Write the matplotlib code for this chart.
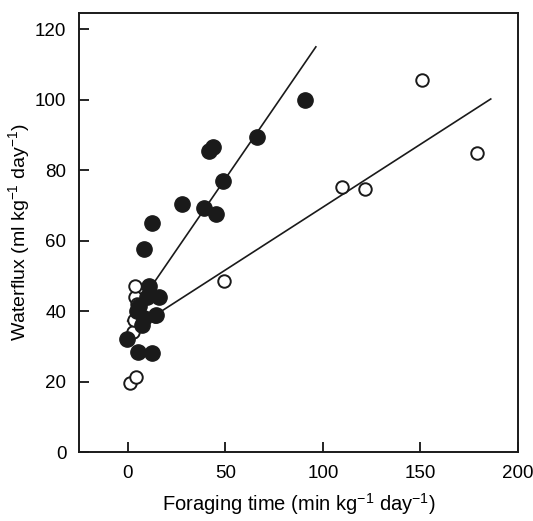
import matplotlib
matplotlib.use("Agg")
import matplotlib.pyplot as plt
import numpy as np

plt.rcParams["font.family"] = ["Liberation Sans", "DejaVu Sans"]
plt.rcParams["mathtext.default"] = "regular"

# filled circles (foraging time, waterflux)
filled_x = [-0.5, 5.5, 12.5, 7.5, 5, 6, 8.5, 14.5, 16, 11, 10, 8.3, 12.5,
            28, 39, 45.5, 49, 41.5, 43.5, 66.5, 91]
filled_y = [32, 28.5, 28, 36, 40, 41.5, 38, 39, 44, 47, 44, 57.5, 65,
            70.5, 69.3, 67.5, 77, 85.5, 86.5, 89.5, 100]

# open circles
open_x = [1, 4.5, 2.5, 3, 4, 3.6, 5, 14, 49.5, 110, 121.5, 151, 179]
open_y = [19.5, 21.3, 34, 37.5, 44, 47, 42, 38.5, 48.5, 75.3, 74.7, 105.6, 85]

# regression lines: slope, intercept, x range
filled_fit = (0.807, 37.2, [0, 96.4])
open_fit = (0.357, 33.8, [2, 186])

fig = plt.figure(figsize=(5.33, 5.21), dpi=100)
ax = fig.add_axes([0.148, 0.1324, 0.824, 0.8426])

for slope, icpt, xr in [filled_fit, open_fit]:
    xs = np.array(xr)
    ax.plot(xs, slope * xs + icpt, color="#1a1a1a", lw=1.2, zorder=2)

ax.plot(open_x, open_y, "o", ms=9, mfc="white", mec="#1a1a1a", mew=1.4, zorder=3)
ax.plot(filled_x, filled_y, "o", ms=11, mfc="#1a1a1a", mec="#1a1a1a", zorder=4)

ax.set_xlim(-25, 200)
ax.set_ylim(0, 124.6)
ax.set_xticks([0, 50, 100, 150, 200])
ax.set_yticks([0, 20, 40, 60, 80, 100, 120])
ax.tick_params(direction="in", length=7, width=1.2, labelsize=13.5, pad=9,
               top=False, right=False)
for s in ax.spines.values():
    s.set_linewidth(1.4)
    s.set_color("#1a1a1a")

ax.set_xlabel("Foraging time (min kg$^{-1}$ day$^{-1}$)", fontsize=14.5, labelpad=7)
ax.set_ylabel("Waterflux (ml kg$^{-1}$ day$^{-1}$)", fontsize=14, labelpad=2)

fig.savefig("out.png", dpi=100)
